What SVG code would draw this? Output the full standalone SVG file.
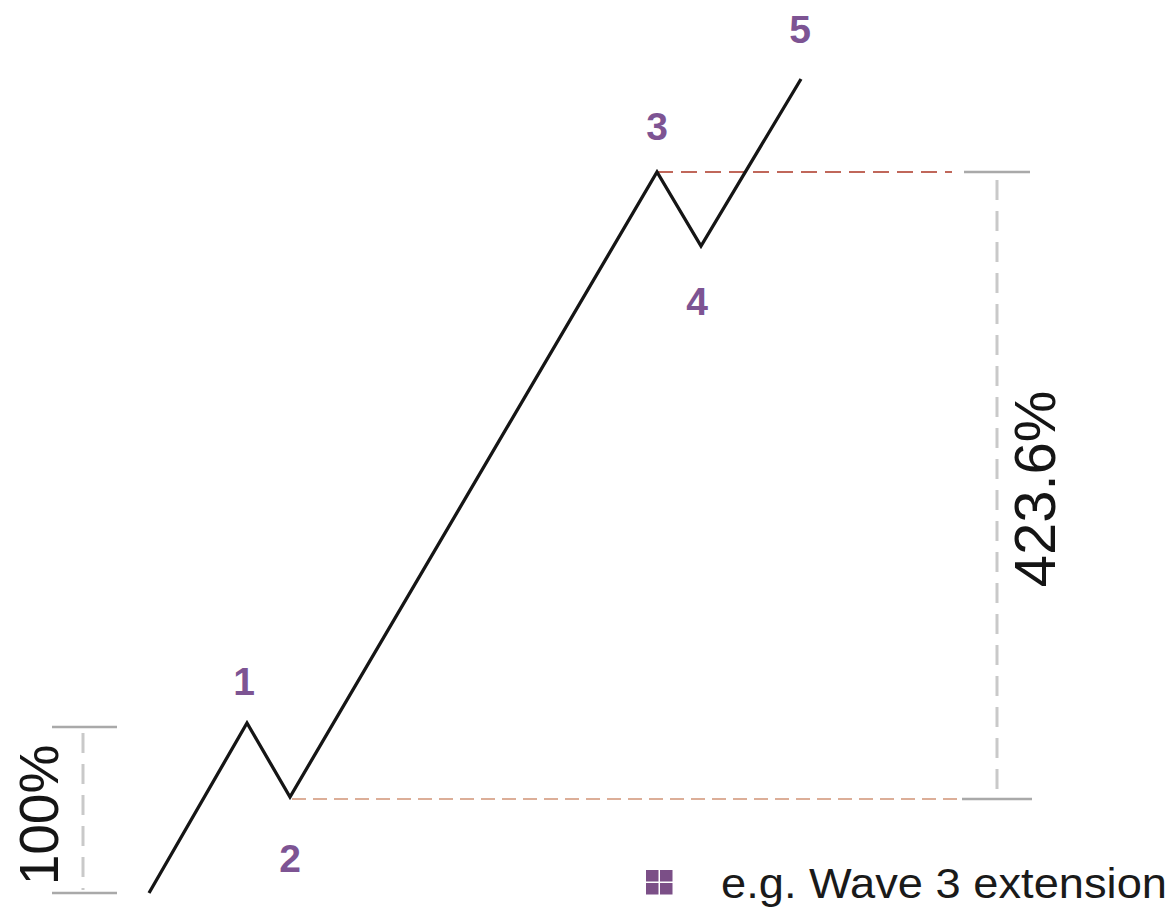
<svg xmlns="http://www.w3.org/2000/svg" width="1173" height="909" viewBox="0 0 1173 909">
<style>
.wave{fill:none;stroke:#151515;stroke-width:3.3;stroke-linejoin:miter}
.tick{stroke:#a9a9a9;stroke-width:2.5}
.vdash{stroke:#c9c9c9;stroke-width:3;stroke-dasharray:20 11}
.hdash1{stroke:#c0675a;stroke-width:2.2;stroke-dasharray:16 8}
.hdash2{stroke:#dcae98;stroke-width:2;stroke-dasharray:14 7}
.num{font-family:"Liberation Sans",Arial,sans-serif;font-weight:bold;font-size:39px;fill:#7d5493;text-anchor:middle}
.pct{font-family:"Liberation Sans",Arial,sans-serif;fill:#151515;text-anchor:middle}
.legend{font-family:"Liberation Sans",Arial,sans-serif;font-size:43px;fill:#1a1a1a}
</style>
<rect width="1173" height="909" fill="#ffffff"/>
<g id="connectors">
<line class="hdash1" x1="657" y1="172" x2="952" y2="172"/>
<line class="hdash2" x1="292" y1="799" x2="957" y2="799"/>
<line class="tick" x1="964" y1="172" x2="1030" y2="172"/>
<line class="tick" x1="962" y1="799" x2="1032" y2="799"/>
<line class="vdash" x1="997" y1="180" x2="997" y2="797"/>
<line class="tick" x1="52" y1="727" x2="117" y2="727"/>
<line class="tick" x1="52" y1="893" x2="117" y2="893"/>
<line class="vdash" x1="83" y1="733" x2="83" y2="890"/>
<polyline class="wave" points="149,893 247,723 290,797 657,172 701,246 801,79"/>
</g>
<g id="label-1"><text class="num" x="244" y="695">1</text></g>
<g id="label-2"><text class="num" x="290" y="872">2</text></g>
<g id="label-3"><text class="num" x="657" y="140">3</text></g>
<g id="label-4"><text class="num" x="697" y="315">4</text></g>
<g id="label-5"><text class="num" x="800" y="43">5</text></g>
<g id="pct-100"><text class="pct" font-size="55" transform="translate(58,815) rotate(-90)">100%</text></g>
<g id="pct-423"><text class="pct" font-size="58" transform="translate(1055,489) rotate(-90)">423.6%</text></g>
<g id="legend">
<rect x="646" y="870" width="12.5" height="11.5" fill="#7b4f87"/>
<rect x="660" y="870" width="12.5" height="11.5" fill="#7b4f87"/>
<rect x="646" y="883" width="12.5" height="11.5" fill="#7b4f87"/>
<rect x="660" y="883" width="12.5" height="11.5" fill="#7b4f87"/>
<text class="legend" x="721" y="898" textLength="446" lengthAdjust="spacingAndGlyphs">e.g. Wave 3 extension</text>
</g>
</svg>
